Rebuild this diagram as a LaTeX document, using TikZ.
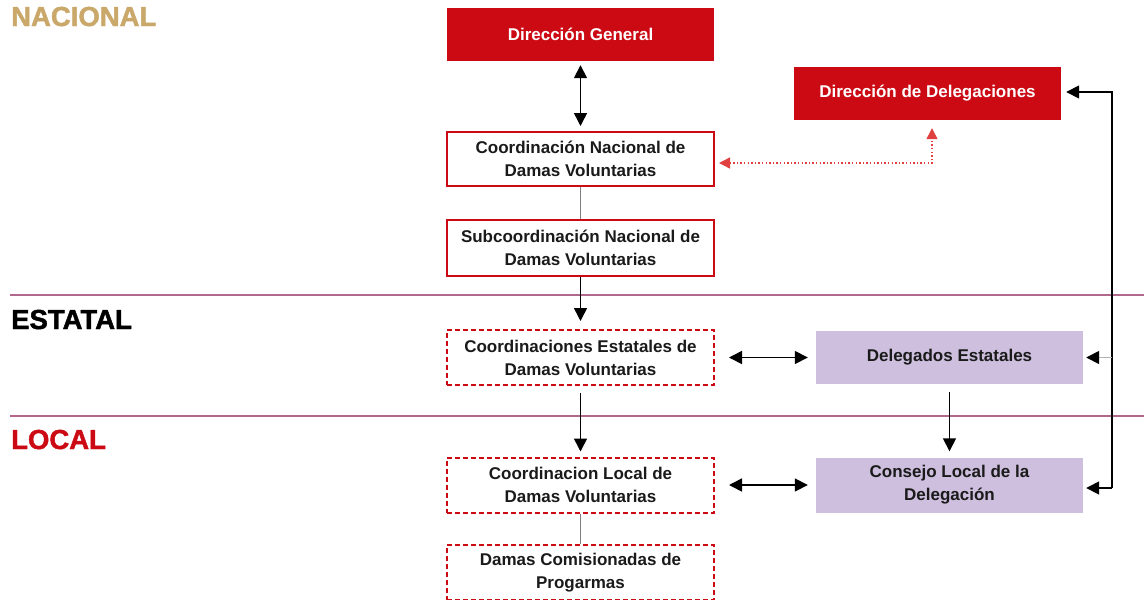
\documentclass[tikz,border=0pt]{standalone}
\usepackage{fontspec}
\setmainfont{Liberation Sans}
\newfontfamily\heavyfont{Liberation Sans}[FakeBold=1.6]
\usetikzlibrary{arrows.meta,calc}
\definecolor{myred}{HTML}{CC0A14}
\definecolor{dotred}{HTML}{E04040}
\definecolor{tan}{HTML}{C9A86A}
\definecolor{lav}{HTML}{CDBFDD}
\definecolor{mauve}{HTML}{B0688C}
\definecolor{txt}{HTML}{1A1A1A}
\begin{document}
\begin{tikzpicture}[x=1pt,y=-1pt,
  box/.style={minimum width=267pt,minimum height=54pt,inner sep=0pt,align=center,
    font=\fontsize{17}{23}\selectfont\bfseries,text=txt},
  redfill/.style={box,fill=myred,text=white},
  redbox/.style={box,draw=myred,line width=2pt,fill=white},
  dashbox/.style={box,draw=myred,line width=2pt,dash pattern=on 5pt off 3pt,fill=white},
  purbox/.style={box,fill=lav},
  lvl/.style={font=\fontsize{27.5}{30}\heavyfont\bfseries,anchor=base west,inner sep=0pt},
  conn/.style={draw=black,line width=1.6pt},
  gline/.style={draw=gray,line width=1.6pt},
  arr/.style={conn,-{Triangle[length=13pt,width=13pt,color=black]}},
  dbl/.style={conn,{Triangle[length=13pt,width=13pt]}-{Triangle[length=13pt,width=13pt]}},
  dotarr/.style={draw=dotred,line width=1.4pt,dash pattern=on 1.4pt off 2.2pt,{Triangle[length=11pt,width=11pt]}-{Triangle[length=11pt,width=11pt]}}
]
\useasboundingbox (0,0) rectangle (1144,600);
\fill[white] (0,0) rectangle (1144,600);

% level labels and lines
\node[lvl,text=tan] (lnac) at (11,26) {NACIONAL};
\node[lvl,text=black] (lest) at (11,329) {ESTATAL};
\node[lvl,text=myred] (lloc) at (11,449) {LOCAL};
\draw[mauve,line width=2pt] (10,295) coordinate (l1a) -- (1144,295) coordinate (l1b);
\draw[mauve,line width=2pt] (10,416) coordinate (l2a) -- (1144,416) coordinate (l2b);

% nodes
\node[redfill,minimum height=53pt] (DG) at (580.5,34.5) {Dirección General};
\node[redbox] (CN) at (580.5,159) {Coordinación Nacional de\\Damas Voluntarias};
\node[redbox,minimum height=56pt] (SN) at (580.5,248) {Subcoordinación Nacional de\\Damas Voluntarias};
\node[dashbox,minimum height=55pt] (CE) at (580.5,357.5) {Coordinaciones Estatales de\\Damas Voluntarias};
\node[dashbox,minimum height=55pt] (CL) at (580.5,485) {Coordinacion Local de\\Damas Voluntarias};
\node[dashbox,minimum height=55pt] (DC) at (580.5,572.5) {Damas Comisionadas de\\Progarmas};
\node[redfill,minimum height=53pt] (DD) at (927.5,93.5) {Dirección de Delegaciones};
\node[purbox,minimum height=53pt] (DE) at (949.5,357.5) {Delegados Estatales};
\node[purbox,minimum height=55pt] (CLD) at (949.5,485) {Consejo Local de la\\Delegación};

% vertical connectors
\draw[dbl,shorten <=4pt,shorten >=5pt] (DG.south) -- (CN.north);
\draw[gline] (CN.south) -- (SN.north);
\draw[arr,shorten >=8pt] (SN.south) -- (CE.north);
\draw[arr,shorten <=7pt,shorten >=5pt] (CE.south) -- (CL.north);
\draw[gline] (CL.south) -- (DC.north);
\draw[arr,shorten <=8pt,shorten >=6pt] (DE.south) -- (CLD.north);

% horizontal double arrows
\draw[dbl,shorten <=14pt,shorten >=8pt] (CE.east) -- (DE.west);
\draw[dbl,shorten <=14pt,shorten >=8pt] (CL.east) -- (CLD.west);

% right feedback line
\coordinate (rt) at (1112,92);
\coordinate (rb) at (1112,488);
\coordinate (rm) at (1112,357.5);
\draw[arr,shorten >=5pt] (rb) -- (rt) -- (DD.east |- rt);
\draw[arr,draw=gray!60,shorten >=3pt] (rm) -- (DE.east);
\draw[arr,shorten >=3pt] (rb) -- (CLD.east |- rb);

% red dotted connector
\coordinate (d1) at (932,163);
\draw[dotarr,shorten <=4pt,shorten >=8pt] (CN.east |- d1) -- (d1) -- (d1 |- DD.south);
\end{tikzpicture}
\end{document}
